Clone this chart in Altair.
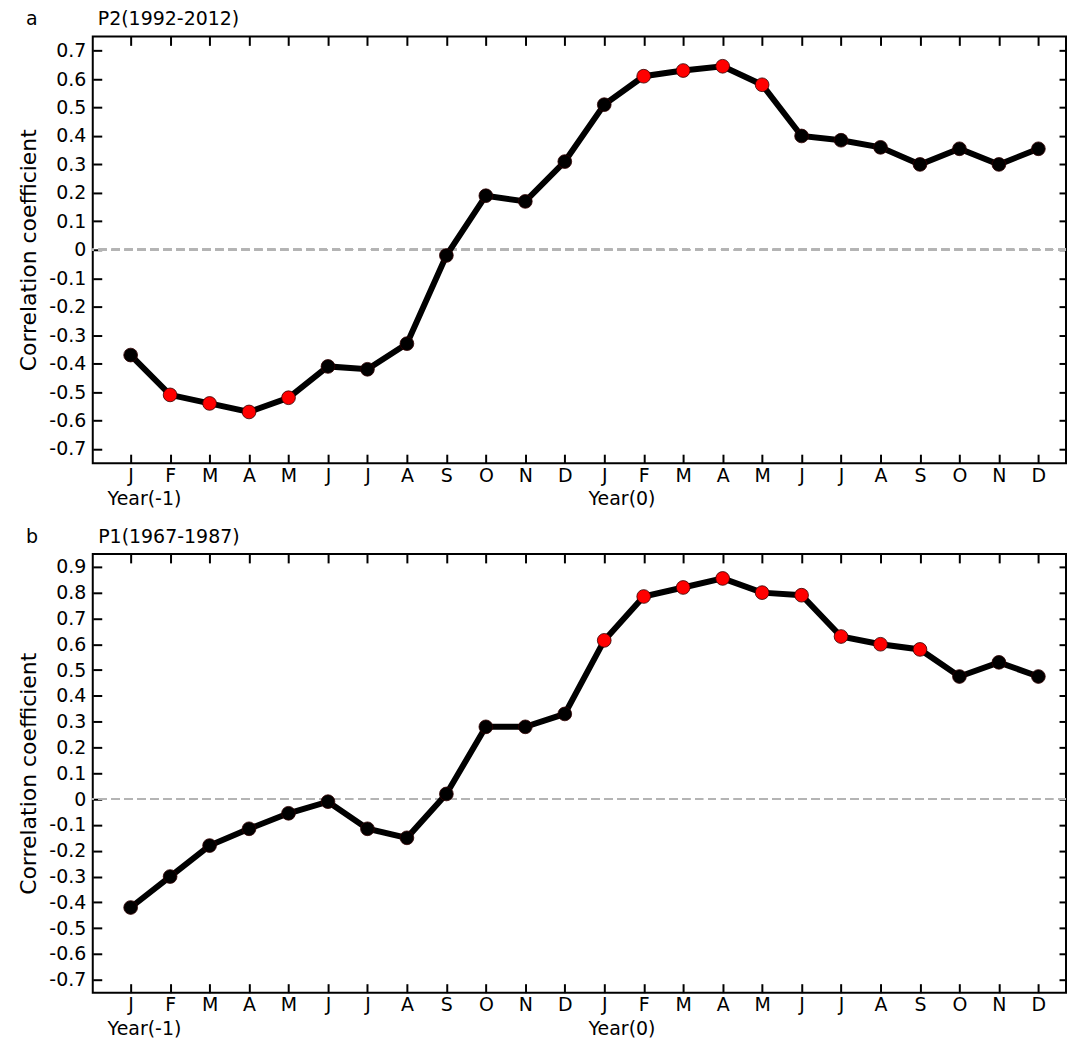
import altair as alt
import pandas as pd

FONT = "DejaVu Sans"

month_labels = ["J", "F", "M", "A", "M", "J", "J", "A", "S", "O", "N", "D",
                "J", "F", "M", "A", "M", "J", "J", "A", "S", "O", "N", "D"]
month_index = list(range(24))

# Panel a: P2 (1992-2012)
p2_values = [-0.37, -0.51, -0.54, -0.57, -0.52, -0.41, -0.42, -0.33, -0.02, 0.19, 0.17, 0.31,
             0.51, 0.61, 0.63, 0.645, 0.58, 0.40, 0.385, 0.36, 0.30, 0.355, 0.30, 0.355]
p2_sig = [1, 2, 3, 4, 13, 14, 15, 16]

# Panel b: P1 (1967-1987)
p1_values = [-0.42, -0.30, -0.18, -0.115, -0.055, -0.01, -0.115, -0.15, 0.02, 0.28, 0.28, 0.33,
             0.615, 0.785, 0.82, 0.855, 0.80, 0.79, 0.63, 0.60, 0.58, 0.475, 0.53, 0.475]
p1_sig = [12, 13, 14, 15, 16, 17, 18, 19, 20]

year_text = ["Year(-1)", "Year(0)"]
year_pos = [0.35, 12.45]

p2_yticks = [round(v / 10, 1) for v in range(-7, 8)]
p1_yticks = [round(v / 10, 1) for v in range(-7, 10)]

PLOT_W = 976
X_DOMAIN = [-0.96, 23.70]
NBSP = "\u00a0"

x_label_expr = "[" + ",".join("'%s'" % m for m in month_labels) + "][datum.value]"
y_label_expr = "replace(format(datum.value, '.1~f'), '\u2212', '-')"


def panel(values, sig, title, letter, ydomain, yticks, height):
    df = pd.DataFrame({
        "idx": month_index,
        "value": values,
        "kind": ["sig" if i in sig else "ns" for i in month_index],
    })
    xs = alt.Scale(domain=X_DOMAIN, nice=False, zero=False)
    ys = alt.Scale(domain=ydomain, nice=False, zero=False)

    ax_bottom = alt.Axis(orient="bottom", values=month_index, labelExpr=x_label_expr,
                         title=None, labelPadding=3)
    ax_top = alt.Axis(orient="top", values=month_index, labels=False, title=None)
    ax_left = alt.Axis(orient="left", values=yticks, labelExpr=y_label_expr,
                       title="Correlation coefficient", labelPadding=7, titlePadding=8)
    ax_right = alt.Axis(orient="right", values=yticks, labels=False, title=None, tickSize=7,
                        offset=-7)

    zero = alt.Chart(df).mark_rule(color="#b4b4b4", strokeWidth=2, strokeDash=[8, 5]).encode(
        y=alt.YDatum(0, scale=ys, axis=None)
    )
    line = alt.Chart(df).mark_line(color="black", strokeWidth=6).encode(
        x=alt.X("idx:Q", scale=xs, axis=ax_bottom),
        y=alt.Y("value:Q", scale=ys, axis=ax_left),
    )
    pts = alt.Chart(df).mark_circle(size=190, opacity=1, stroke="#300000", strokeWidth=0.8).encode(
        x=alt.X("idx:Q", scale=xs, axis=None),
        y=alt.Y("value:Q", scale=ys, axis=None),
        color=alt.Color("kind:N", scale=alt.Scale(domain=["ns", "sig"], range=["black", "#ff0000"]),
                        legend=None),
    )
    mirror = alt.Chart(df).mark_point(opacity=0).encode(
        x=alt.X("idx:Q", scale=xs, axis=ax_top),
        y=alt.Y("value:Q", scale=ys, axis=ax_right),
    )
    ydf = pd.DataFrame({"x": year_pos, "t": year_text})
    years = alt.Chart(ydf).mark_text(font=FONT, fontSize=19, color="black", align="center",
                                     baseline="middle").encode(
        x=alt.X("x:Q", scale=xs, axis=None),
        y=alt.value(height + 36),
        text="t:N",
    )

    return alt.layer(zero, line, pts, mirror, years).resolve_axis(
        x="independent", y="independent"
    ).properties(
        width=PLOT_W,
        height=height,
        title=alt.TitleParams(text=letter + NBSP * 10 + title, anchor="start", frame="group",
                              font=FONT, fontSize=19, fontWeight="normal", color="black",
                              offset=6, dx=-67),
    )


top = panel(p2_values, p2_sig, "P2(1992-2012)", "a", [-0.75, 0.75], p2_yticks, 428)
bottom = panel(p1_values, p1_sig, "P1(1967-1987)", "b", [-0.75, 0.95], p1_yticks, 440)

chart = alt.vconcat(top, bottom, spacing=17).configure(
    padding={"left": 8, "top": 0, "right": 0, "bottom": 0}
).configure_view(
    stroke="black", strokeWidth=2
).configure_axis(
    labelFont=FONT, labelFontSize=19, labelColor="black",
    titleFont=FONT, titleFontSize=22, titleFontWeight="normal", titleColor="black",
    tickColor="black", tickWidth=2, tickSize=9, offset=-9,
    domain=False, grid=False,
)

chart.save("out.html", embed_options={"renderer": "svg", "actions": False})
